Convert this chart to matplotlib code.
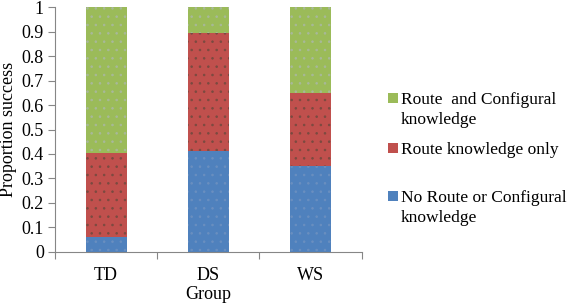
import numpy as np
import matplotlib.pyplot as plt
from matplotlib.patches import Patch

plt.rcParams['font.family'] = ['Liberation Serif', 'DejaVu Serif']
plt.rcParams['hatch.linewidth'] = 0.6

groups = ['TD', 'DS', 'WS']
no_route = [0.063, 0.413, 0.350]
route_only = [0.342, 0.482, 0.298]
route_config = [0.595, 0.105, 0.352]

colors = ['#4F81BD', '#C0504D', '#9BBB59']
dots = ['#6a8fc0', '#7a4a40', '#a8b89a']

fig = plt.figure(figsize=(5.67, 3.08), dpi=100)
ax = fig.add_axes([0.097, 0.182, 0.541, 0.795])

x = np.arange(len(groups)) + 0.5
w = 0.4
ax.bar(x, no_route, w, color=colors[0], edgecolor=dots[0], hatch='..', linewidth=0)
ax.bar(x, route_only, w, bottom=no_route, color=colors[1], edgecolor=dots[1], hatch='..', linewidth=0)
bottom2 = np.array(no_route) + np.array(route_only)
ax.bar(x, route_config, w, bottom=bottom2, color=colors[2], edgecolor=dots[2], hatch='..', linewidth=0)

ax.set_xlim(0, 3)
ax.set_ylim(0, 1)
ax.set_yticks(np.arange(0, 1.01, 0.1))
ax.set_yticklabels(['0', '0.1', '0.2', '0.3', '0.4', '0.5', '0.6', '0.7', '0.8', '0.9', '1'])
ax.set_xticks([0, 1, 2, 3])
ax.set_xticklabels([])
ax.set_xticks(x, minor=True)
ax.set_xticklabels(groups, minor=True)
ax.tick_params(axis='x', which='minor', length=0, pad=11, labelsize=13)
ax.tick_params(axis='x', which='major', length=5, color='#868686', direction='out')
ax.tick_params(axis='y', length=5, color='#868686', labelsize=13, pad=3)

for s in ['top', 'right']:
    ax.spines[s].set_visible(False)
for s in ['left', 'bottom']:
    ax.spines[s].set_color('#868686')

ax.set_ylabel('Proportion success', fontsize=13, labelpad=3)
ax.set_xlabel('Group', fontsize=13, labelpad=1)

# legend entries, top to bottom (first line, second line, colour index, y of first line in px)
entries = [('Route  and Configural', 'knowledge', 2, 100),
           ('Route knowledge only', None, 1, 150),
           ('No Route or Configural', 'knowledge', 0, 198)]
H = 308.0
for first, second, ci, ypx in entries:
    fig.legend([Patch(facecolor=colors[ci], edgecolor='none')], [first],
               loc='center left', bbox_to_anchor=(388 / 567, 1 - ypx / H),
               frameon=False, fontsize=12.5, handlelength=0.55, handleheight=0.55,
               handletextpad=0.2, borderpad=0, borderaxespad=0)
    if second:
        fig.text(401 / 567, 1 - (ypx + 20) / H, second, fontsize=12.5, va='center', ha='left')

fig.savefig('out.png', dpi=100)
